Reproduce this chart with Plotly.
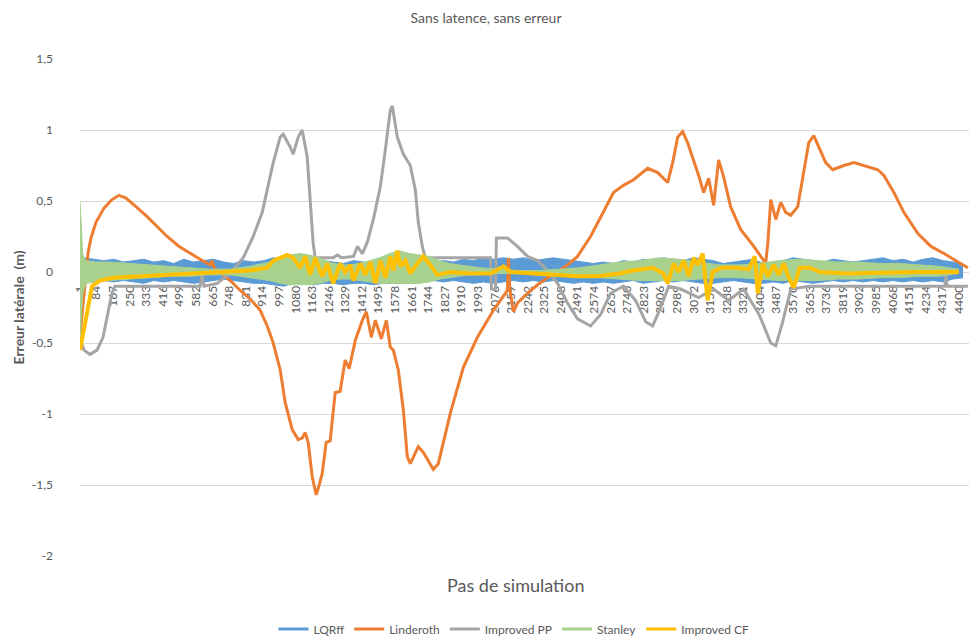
import plotly.graph_objects as go

# ---------------------------------------------------------------------------
# Data (simulation step -> lateral error in metres)
# ---------------------------------------------------------------------------
X_TICKS = [1, 84, 167, 250, 333, 416, 499, 582, 665, 748, 831, 914, 997, 1080,
           1163, 1246, 1329, 1412, 1495, 1578, 1661, 1744, 1827, 1910, 1993,
           2076, 2159, 2242, 2325, 2408, 2491, 2574, 2657, 2740, 2823, 2906,
           2989, 3072, 3155, 3238, 3321, 3404, 3487, 3570, 3653, 3736, 3819,
           3902, 3985, 4068, 4151, 4234, 4317, 4400]
Y_TICKS = [-2, -1.5, -1, -0.5, 0, 0.5, 1, 1.5]
Y_TICK_TEXT = ["-2", "-1,5", "-1", "-0,5", "0", "0,5", "1", "1,5"]

# LQRff: dense oscillation, kept as its upper / lower envelope
LQR_STEPS = [20, 70, 120, 170, 220, 270, 320, 370, 420, 470, 520, 570, 620,
             670, 720, 770, 820, 870, 920, 970, 1020, 1070, 1120, 1170, 1220,
             1270, 1320, 1370, 1420, 1470, 1520, 1570, 1620, 1670, 1720, 1770,
             1820, 1870, 1920, 1970, 2020, 2070, 2120, 2170, 2220, 2270, 2320,
             2370, 2420, 2470, 2520, 2570, 2620, 2670, 2720, 2770, 2820, 2870,
             2920, 2970, 3020, 3070, 3120, 3170, 3220, 3270, 3320, 3370, 3420,
             3470, 3520, 3570, 3620, 3670, 3720, 3770, 3820, 3870, 3920, 3970,
             4020, 4070, 4120, 4170, 4220, 4270, 4320, 4370, 4420]
LQR_UPPER = [0.1, 0.09, 0.08, 0.09, 0.07, 0.08, 0.09, 0.07, 0.08, 0.06,
             0.09, 0.07, 0.08, 0.09, 0.07, 0.06, 0.08, 0.07, 0.08, 0.1,
             0.09, 0.08, 0.07, 0.06, 0.08, 0.07, 0.06, 0.08, 0.07, 0.06,
             0.08, 0.07, 0.06, 0.05, 0.06, 0.07, 0.08, 0.07, 0.09, 0.08,
             0.1, 0.09, 0.1, 0.09, 0.1, 0.08, 0.09, 0.1, 0.09, 0.08,
             0.07, 0.06, 0.07, 0.06, 0.08, 0.07, 0.09, 0.08, 0.1, 0.09,
             0.08, 0.1, 0.09, 0.08, 0.06, 0.07, 0.08, 0.09, 0.06, 0.07,
             0.08, 0.1, 0.09, 0.08, 0.07, 0.09, 0.08, 0.07, 0.08, 0.09,
             0.1, 0.08, 0.09, 0.07, 0.09, 0.1, 0.08, 0.07, 0.06]
LQR_LOWER = [-0.06, -0.07, -0.06, -0.07, -0.06, -0.07, -0.08, -0.06, -0.07, -0.06,
             -0.07, -0.08, -0.07, -0.06, -0.05, -0.06, -0.07, -0.08, -0.08, -0.09,
             -0.1, -0.08, -0.08, -0.09, -0.08, -0.08, -0.09, -0.08, -0.08, -0.09,
             -0.08, -0.08, -0.08, -0.08, -0.07, -0.06, -0.07, -0.06, -0.07, -0.08,
             -0.07, -0.08, -0.07, -0.06, -0.07, -0.06, -0.07, -0.06, -0.07, -0.08,
             -0.07, -0.08, -0.07, -0.08, -0.07, -0.06, -0.08, -0.07, -0.06, -0.07,
             -0.06, -0.07, -0.08, -0.08, -0.07, -0.06, -0.07, -0.08, -0.08, -0.07,
             -0.08, -0.06, -0.07, -0.08, -0.07, -0.06, -0.07, -0.06, -0.07, -0.06,
             -0.07, -0.06, -0.07, -0.06, -0.07, -0.06, -0.07, -0.05, -0.04]

LIN_STEPS = [1, 11, 21, 31, 41, 56, 81, 121, 161, 196, 231, 281, 337, 387, 437,
             497, 552, 602, 652, 662, 672, 717, 760, 803, 853, 903, 938, 968,
             1003, 1028, 1063, 1093, 1113, 1128, 1143, 1163, 1183, 1198, 1213,
             1233, 1253, 1278, 1303, 1328, 1348, 1379, 1414, 1434, 1459, 1479,
             1509, 1534, 1554, 1569, 1594, 1619, 1639, 1654, 1694, 1719, 1769,
             1794, 1855, 1920, 1990, 2070, 2120, 2140, 2145, 2152, 2170, 2190,
             2240, 2291, 2341, 2391, 2441, 2491, 2556, 2621, 2671, 2721, 2771,
             2842, 2892, 2942, 2967, 2992, 3017, 3042, 3072, 3097, 3122, 3147,
             3172, 3197, 3222, 3257, 3307, 3373, 3423, 3433, 3443, 3458, 3483,
             3508, 3533, 3558, 3593, 3618, 3648, 3673, 3698, 3733, 3768, 3824,
             3874, 3944, 3994, 4024, 4074, 4124, 4194, 4260, 4325, 4395, 4445]
LIN_VALUES = [-0.45, -0.3, -0.12, 0.02, 0.13, 0.24, 0.35, 0.45, 0.51, 0.54, 0.52,
              0.46, 0.39, 0.32, 0.25, 0.18, 0.13, 0.09, 0.05, 0.08, 0.03, -0.02,
              -0.07, -0.13, -0.19, -0.27, -0.38, -0.5, -0.69, -0.92, -1.11,
              -1.18, -1.17, -1.13, -1.2, -1.44, -1.57, -1.5, -1.42, -1.2, -1.19,
              -0.85, -0.84, -0.62, -0.68, -0.48, -0.34, -0.28, -0.46, -0.34,
              -0.47, -0.34, -0.53, -0.55, -0.69, -0.97, -1.3, -1.35, -1.23,
              -1.27, -1.39, -1.35, -0.99, -0.67, -0.46, -0.27, -0.17, -0.13,
              0.1, -0.12, -0.28, -0.22, -0.15, -0.09, -0.04, 0.0, 0.05, 0.11,
              0.25, 0.42, 0.56, 0.61, 0.65, 0.73, 0.7, 0.63, 0.77, 0.95, 0.99,
              0.91, 0.79, 0.68, 0.56, 0.66, 0.47, 0.79, 0.67, 0.46, 0.3, 0.18,
              0.08, 0.07, 0.2, 0.51, 0.37, 0.49, 0.42, 0.4, 0.46, 0.67, 0.91,
              0.96, 0.88, 0.77, 0.72, 0.75, 0.77, 0.74, 0.72, 0.68, 0.56, 0.42,
              0.27, 0.18, 0.13, 0.07, 0.03]

PP_STEPS = [1, 21, 51, 86, 116, 141, 161, 176, 300, 450, 602, 612, 622, 687,
            752, 818, 868, 913, 943, 968, 1003, 1018, 1053, 1068, 1093, 1113,
            1138, 1153, 1168, 1178, 1268, 1290, 1310, 1370, 1389, 1414, 1439,
            1469, 1504, 1529, 1554, 1564, 1589, 1619, 1654, 1679, 1694, 1714,
            1729, 1900, 2055, 2060, 2080, 2085, 2140, 2190, 2240, 2291, 2341,
            2391, 2441, 2491, 2556, 2606, 2656, 2721, 2781, 2832, 2867, 2907,
            2947, 3007, 3097, 3172, 3247, 3322, 3400, 3458, 3483, 3518, 3558,
            3650, 4330, 4335, 4340, 4445]
PP_VALUES = [-0.47, -0.55, -0.58, -0.55, -0.46, -0.3, -0.15, -0.1, -0.1, -0.1,
             -0.1, -0.02, -0.1, -0.08, -0.01, 0.1, 0.25, 0.42, 0.6, 0.77, 0.95,
             0.97, 0.88, 0.83, 0.95, 1.0, 0.81, 0.51, 0.2, 0.1, 0.1, 0.12, 0.1,
             0.11, 0.18, 0.13, 0.21, 0.37, 0.6, 0.86, 1.14, 1.17, 0.95, 0.83,
             0.75, 0.58, 0.35, 0.18, 0.1, 0.1, 0.1, -0.12, -0.12, 0.24, 0.24,
             0.18, 0.11, 0.08, 0.01, -0.08, -0.22, -0.33, -0.38, -0.3, -0.15,
             -0.1, -0.2, -0.35, -0.38, -0.25, -0.1, -0.12, -0.18, -0.12, -0.2,
             -0.12, -0.3, -0.5, -0.52, -0.35, -0.12, -0.1, -0.1, -0.02, -0.1,
             -0.1]

# Stanley: oscillating band, kept as its upper / lower envelope
ST_STEPS = [1, 8, 15, 30, 80, 150, 250, 350, 450, 550, 650, 750, 850, 950,
            1000, 1050, 1100, 1150, 1200, 1250, 1300, 1350, 1400, 1450, 1500,
            1550, 1600, 1650, 1700, 1750, 1800, 1850, 1900, 1950, 2000, 2100,
            2200, 2300, 2400, 2500, 2600, 2700, 2800, 2900, 3000, 3100, 3200,
            3300, 3400, 3500, 3600, 3700, 3800, 3900, 4000, 4100, 4200, 4300,
            4400]
ST_UPPER = [0.5, 0.3, 0.12, 0.08, 0.07, 0.07, 0.06, 0.05, 0.04, 0.03, 0.02,
            0.02, 0.04, 0.07, 0.1, 0.12, 0.13, 0.12, 0.1, 0.07, 0.05, 0.05,
            0.06, 0.08, 0.1, 0.13, 0.15, 0.13, 0.12, 0.11, 0.08, 0.06, 0.05,
            0.04, 0.03, 0.02, 0.01, 0.01, 0.02, 0.03, 0.05, 0.07, 0.08, 0.1,
            0.09, 0.07, 0.05, 0.05, 0.06, 0.08, 0.09, 0.08, 0.07, 0.07, 0.06,
            0.06, 0.05, 0.04, 0.02]
ST_LOWER = [-0.5, -0.3, -0.15, -0.08, -0.07, -0.06, -0.05, -0.04, -0.03, -0.03,
            -0.02, -0.02, -0.04, -0.06, -0.08, -0.09, -0.09, -0.09, -0.08,
            -0.06, -0.05, -0.05, -0.06, -0.07, -0.08, -0.08, -0.08, -0.08,
            -0.08, -0.07, -0.05, -0.04, -0.03, -0.02, -0.02, -0.01, -0.01,
            -0.01, -0.02, -0.03, -0.04, -0.05, -0.06, -0.06, -0.06, -0.05,
            -0.04, -0.04, -0.05, -0.06, -0.06, -0.06, -0.05, -0.05, -0.04,
            -0.04, -0.03, -0.03, -0.01]

CF_STEPS = [1, 16, 36, 61, 101, 166, 300, 450, 600, 750, 850, 938, 968, 1003,
            1038, 1068, 1088, 1103, 1128, 1153, 1178, 1213, 1238, 1268, 1303,
            1328, 1354, 1369, 1404, 1429, 1454, 1479, 1504, 1529, 1554, 1569,
            1589, 1604, 1629, 1654, 1689, 1719, 1754, 1789, 1855, 1950, 2055,
            2120, 2155, 2250, 2341, 2491, 2591, 2650, 2700, 2770, 2867, 2920,
            2942, 2972, 2997, 3022, 3047, 3072, 3092, 3117, 3142, 3167, 3212,
            3278, 3348, 3378, 3393, 3418, 3443, 3473, 3498, 3523, 3548, 3573,
            3603, 3653, 3703, 3840, 4000, 4200, 4400]
CF_VALUES = [-0.55, -0.45, -0.29, -0.1, -0.06, -0.04, -0.03, -0.02, -0.01, 0.0,
             0.01, 0.03, 0.08, 0.1, 0.12, 0.1, 0.06, 0.03, 0.11, -0.02, 0.1,
             -0.03, 0.06, -0.08, 0.06, 0.0, 0.05, -0.06, 0.06, -0.02, 0.07,
             -0.08, 0.08, -0.04, 0.11, 0.01, 0.15, 0.04, 0.08, -0.01, 0.06,
             0.11, 0.05, -0.02, 0.0, -0.01, -0.01, 0.04, 0.0, -0.01, -0.02,
             -0.03, -0.03, -0.02, -0.01, 0.01, 0.03, -0.01, -0.08, 0.06, 0.0,
             0.08, -0.03, 0.1, 0.05, 0.13, -0.2, 0.0, 0.03, 0.03, 0.02, 0.11,
             -0.15, 0.06, -0.03, 0.05, -0.02, 0.06, -0.04, -0.11, 0.03, 0.03,
             0.0, -0.01, -0.005, 0.0, 0.0]

BLUE = "#5B9BD5"
ORANGE = "#ED7D31"
GRAY = "#A5A5A5"
GREEN = "#A9D18E"
YELLOW = "#FFC000"
TEXT = "#595959"
FONT = "Lato"

fig = go.Figure()


def legend_entry(name, color):
    fig.add_trace(go.Scatter(x=[None], y=[None], mode="lines", name=name,
                             line=dict(color=color, width=3)))


def band(steps, upper, lower, color):
    fig.add_trace(go.Scatter(x=steps, y=upper, mode="lines", showlegend=False,
                             line=dict(color=color, width=1), hoverinfo="skip"))
    fig.add_trace(go.Scatter(x=steps, y=lower, mode="lines", showlegend=False,
                             fill="tonexty", fillcolor=color,
                             line=dict(color=color, width=1), hoverinfo="skip"))


legend_entry("LQRff", BLUE)
band(LQR_STEPS, LQR_UPPER, LQR_LOWER, BLUE)

legend_entry("Linderoth", ORANGE)
fig.add_trace(go.Scatter(x=LIN_STEPS, y=LIN_VALUES, mode="lines", showlegend=False,
                         line=dict(color=ORANGE, width=3)))

legend_entry("Improved PP", GRAY)
fig.add_trace(go.Scatter(x=PP_STEPS, y=PP_VALUES, mode="lines", showlegend=False,
                         line=dict(color=GRAY, width=3)))

legend_entry("Stanley", GREEN)
band(ST_STEPS, ST_UPPER, ST_LOWER, GREEN)

legend_entry("Improved CF", YELLOW)
fig.add_trace(go.Scatter(x=CF_STEPS, y=CF_VALUES, mode="lines", showlegend=False,
                         line=dict(color=YELLOW, width=4)))

# plot area in pixels: x 80..969, y 59..556 (zero line at y=272)
W, H = 972, 636
L, R, T, B = 80, 3, 59, 80
zero_pos = (H - B - 272) / (H - T - B)

fig.update_layout(
    width=W, height=H,
    margin=dict(l=L, r=R, t=T, b=B),
    paper_bgcolor="white", plot_bgcolor="white",
    font=dict(family=FONT, color=TEXT),
    title=dict(text="Sans latence, sans erreur", x=0.5, xref="container",
               xanchor="center", y=1 - 18 / H, yref="container",
               yanchor="middle", font=dict(size=14, color=TEXT)),
    showlegend=True,
    legend=dict(orientation="h", traceorder="normal",
                x=(514 - L) / (W - L - R), xanchor="center",
                y=1 - 629 / H, yref="container", yanchor="middle",
                itemwidth=30, font=dict(size=12, color=TEXT)),
    xaxis=dict(range=[1, 4450], tickmode="array", tickvals=X_TICKS,
               ticktext=[str(t) for t in X_TICKS], tickangle=-90,
               tickfont=dict(size=12, color=TEXT), showgrid=False,
               zeroline=False, showline=True, linecolor="#D9D9D9",
               anchor="free", position=zero_pos, layer="below traces",
               ticks="", ticklabelstandoff=8),
    yaxis=dict(range=[-2, 1.5], tickmode="array", tickvals=Y_TICKS,
               ticktext=Y_TICK_TEXT, tickfont=dict(size=12, color=TEXT),
               showgrid=True, gridcolor="#D9D9D9", gridwidth=1,
               zeroline=False, ticklabelstandoff=26),
    annotations=[
        dict(text="Pas de simulation", xref="paper", yref="paper",
             x=(515 - L) / (W - L - R), y=-(585 - (H - B)) / (H - T - B),
             xanchor="center", yanchor="middle", showarrow=False,
             font=dict(size=18, color=TEXT)),
        dict(text="<b>Erreur latérale  (m)</b>", xref="paper", yref="paper",
             x=(18 - L) / (W - L - R), y=0.5, textangle=-90,
             xanchor="center", yanchor="middle", showarrow=False,
             font=dict(size=14, color=TEXT)),
    ],
)

# the page body has a default 8px margin; drop it so the figure sits at 0,0
fig.write_html("out.html", config={"displayModeBar": False},
               post_script="document.body.style.margin='0px';")
